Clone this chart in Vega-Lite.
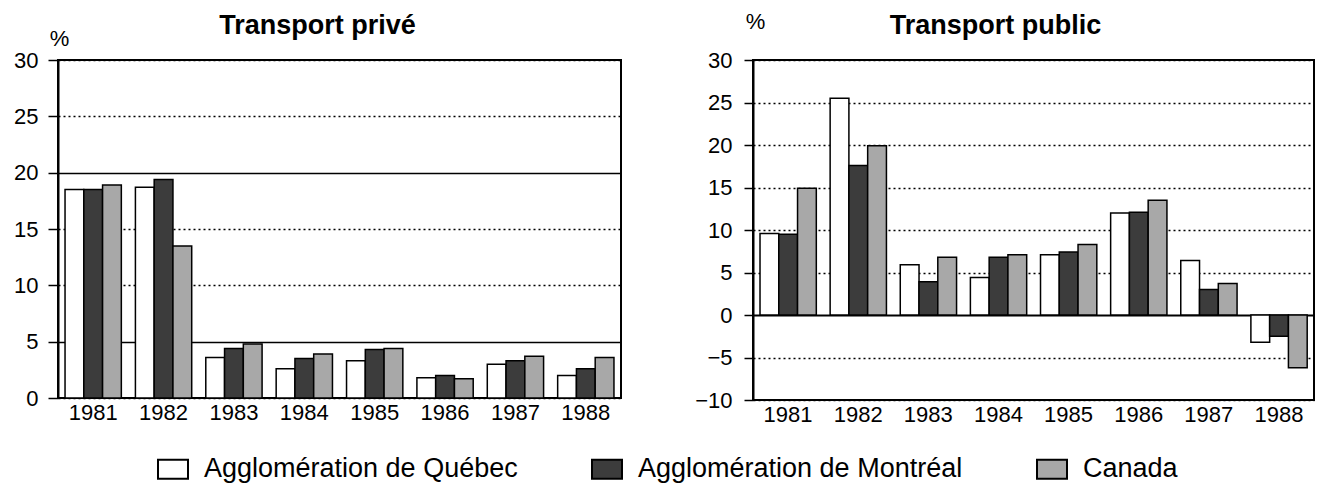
{
  "$schema": "https://vega.github.io/schema/vega-lite/v6.json",
  "background": "white",
  "padding": {"left": 12, "top": 9, "right": 8, "bottom": 0},
  "datasets": {
    "d": [
      {"t": "privé", "year": "1981", "region": "Agglomération de Québec", "v": 18.5},
      {"t": "privé", "year": "1981", "region": "Agglomération de Montréal", "v": 18.5},
      {"t": "privé", "year": "1981", "region": "Canada", "v": 18.9},
      {"t": "privé", "year": "1982", "region": "Agglomération de Québec", "v": 18.7},
      {"t": "privé", "year": "1982", "region": "Agglomération de Montréal", "v": 19.4},
      {"t": "privé", "year": "1982", "region": "Canada", "v": 13.5},
      {"t": "privé", "year": "1983", "region": "Agglomération de Québec", "v": 3.6},
      {"t": "privé", "year": "1983", "region": "Agglomération de Montréal", "v": 4.4},
      {"t": "privé", "year": "1983", "region": "Canada", "v": 4.8},
      {"t": "privé", "year": "1984", "region": "Agglomération de Québec", "v": 2.6},
      {"t": "privé", "year": "1984", "region": "Agglomération de Montréal", "v": 3.5},
      {"t": "privé", "year": "1984", "region": "Canada", "v": 3.9},
      {"t": "privé", "year": "1985", "region": "Agglomération de Québec", "v": 3.3},
      {"t": "privé", "year": "1985", "region": "Agglomération de Montréal", "v": 4.3},
      {"t": "privé", "year": "1985", "region": "Canada", "v": 4.4},
      {"t": "privé", "year": "1986", "region": "Agglomération de Québec", "v": 1.8},
      {"t": "privé", "year": "1986", "region": "Agglomération de Montréal", "v": 2.0},
      {"t": "privé", "year": "1986", "region": "Canada", "v": 1.7},
      {"t": "privé", "year": "1987", "region": "Agglomération de Québec", "v": 3.0},
      {"t": "privé", "year": "1987", "region": "Agglomération de Montréal", "v": 3.3},
      {"t": "privé", "year": "1987", "region": "Canada", "v": 3.7},
      {"t": "privé", "year": "1988", "region": "Agglomération de Québec", "v": 2.0},
      {"t": "privé", "year": "1988", "region": "Agglomération de Montréal", "v": 2.6},
      {"t": "privé", "year": "1988", "region": "Canada", "v": 3.6},
      {"t": "public", "year": "1981", "region": "Agglomération de Québec", "v": 9.6},
      {"t": "public", "year": "1981", "region": "Agglomération de Montréal", "v": 9.5},
      {"t": "public", "year": "1981", "region": "Canada", "v": 14.9},
      {"t": "public", "year": "1982", "region": "Agglomération de Québec", "v": 25.5},
      {"t": "public", "year": "1982", "region": "Agglomération de Montréal", "v": 17.6},
      {"t": "public", "year": "1982", "region": "Canada", "v": 19.9},
      {"t": "public", "year": "1983", "region": "Agglomération de Québec", "v": 5.9},
      {"t": "public", "year": "1983", "region": "Agglomération de Montréal", "v": 3.9},
      {"t": "public", "year": "1983", "region": "Canada", "v": 6.8},
      {"t": "public", "year": "1984", "region": "Agglomération de Québec", "v": 4.4},
      {"t": "public", "year": "1984", "region": "Agglomération de Montréal", "v": 6.8},
      {"t": "public", "year": "1984", "region": "Canada", "v": 7.1},
      {"t": "public", "year": "1985", "region": "Agglomération de Québec", "v": 7.1},
      {"t": "public", "year": "1985", "region": "Agglomération de Montréal", "v": 7.4},
      {"t": "public", "year": "1985", "region": "Canada", "v": 8.3},
      {"t": "public", "year": "1986", "region": "Agglomération de Québec", "v": 12.0},
      {"t": "public", "year": "1986", "region": "Agglomération de Montréal", "v": 12.1},
      {"t": "public", "year": "1986", "region": "Canada", "v": 13.5},
      {"t": "public", "year": "1987", "region": "Agglomération de Québec", "v": 6.4},
      {"t": "public", "year": "1987", "region": "Agglomération de Montréal", "v": 3.0},
      {"t": "public", "year": "1987", "region": "Canada", "v": 3.7},
      {"t": "public", "year": "1988", "region": "Agglomération de Québec", "v": -3.2},
      {"t": "public", "year": "1988", "region": "Agglomération de Montréal", "v": -2.5},
      {"t": "public", "year": "1988", "region": "Canada", "v": -6.2}
    ]
  },
  "config": {
    "font": "Liberation Sans",
    "view": {"stroke": "black", "strokeWidth": 2},
    "axis": {"labelFont": "Liberation Sans", "labelFontSize": 22, "labelColor": "black", "titleColor": "black", "titleFont": "Liberation Sans"},
    "title": {"font": "Liberation Sans", "fontSize": 27, "fontWeight": "bold", "color": "black"},
    "legend": {"labelFont": "Liberation Sans"},
    "concat": {"spacing": 71}
  },
  "hconcat": [
    {
      "width": 563,
      "height": 338,
      "data": {"name": "d"},
      "transform": [{"filter": "datum.t == 'privé'"}],
      "title": {"text": "Transport privé", "anchor": "middle", "frame": "group", "dx": -22, "offset": -13},
      "mark": {"type": "bar", "stroke": "black", "strokeWidth": 1.5},
      "encoding": {
        "x": {"field": "year", "type": "nominal", "scale": {"paddingInner": 0.2, "paddingOuter": 0.1},
              "axis": {"title": null, "labelAngle": 0, "ticks": false, "domain": false, "labelPadding": 4}},
        "xOffset": {"field": "region", "type": "nominal", "sort": ["Agglomération de Québec", "Agglomération de Montréal", "Canada"], "scale": {"paddingInner": 0, "paddingOuter": 0}},
        "y": {"field": "v", "type": "quantitative", "scale": {"domain": [0, 30], "nice": false},
              "axis": {"title": "%", "titleAngle": 0, "titleX": 1, "titleY": -15, "titleAlign": "center", "titleBaseline": "alphabetic", "titleFontSize": 22, "titleFontWeight": "normal",
                       "values": [0, 5, 10, 15, 20, 25, 30], "tickSize": 10, "tickColor": "black", "tickWidth": 1.5, "domainColor": "black", "domainWidth": 2, "labelPadding": 10,
                       "grid": true, "gridColor": "black", "gridWidth": 1.3, "gridDash": {"condition": {"test": "datum.value == 20 || datum.value == 5", "value": []}, "value": [2, 3]}}},
        "color": {"field": "region", "type": "nominal",
                  "scale": {"domain": ["Agglomération de Québec", "Agglomération de Montréal", "Canada"], "range": ["#ffffff", "#3c3c3c", "#a8a8a8"]},
                  "legend": {"orient": "none", "legendX": 99, "legendY": 393, "direction": "horizontal", "title": null,
                             "symbolType": "M-1,-0.63H1V0.63H-1Z", "symbolSize": 900, "symbolStrokeColor": "black", "symbolStrokeWidth": 2,
                             "labelFontSize": 27, "labelColor": "black", "labelLimit": 0, "columnPadding": 70, "labelOffset": 15}}
      }
    },
    {
      "width": 561,
      "height": 340,
      "data": {"name": "d"},
      "transform": [{"filter": "datum.t == 'public'"}],
      "title": {"text": "Transport public", "anchor": "middle", "frame": "group", "dx": -38, "offset": -30},
      "mark": {"type": "bar", "stroke": "black", "strokeWidth": 1.5},
      "encoding": {
        "x": {"field": "year", "type": "nominal", "scale": {"paddingInner": 0.2, "paddingOuter": 0.1},
              "axis": {"title": null, "labelAngle": 0, "ticks": false, "domain": false, "labelPadding": 4}},
        "xOffset": {"field": "region", "type": "nominal", "sort": ["Agglomération de Québec", "Agglomération de Montréal", "Canada"], "scale": {"paddingInner": 0, "paddingOuter": 0}},
        "y": {"field": "v", "type": "quantitative", "scale": {"domain": [-10, 30], "nice": false},
              "axis": {"title": "%", "titleAngle": 0, "titleX": 2, "titleY": -32, "titleAlign": "center", "titleBaseline": "alphabetic", "titleFontSize": 22, "titleFontWeight": "normal",
                       "values": [-10, -5, 0, 5, 10, 15, 20, 25, 30], "tickSize": 9, "tickColor": "black", "tickWidth": 1.5, "domainColor": "black", "domainWidth": 2, "labelPadding": 12,
                       "grid": true, "gridColor": "black", "gridWidth": {"condition": {"test": "datum.value == 0", "value": 2}, "value": 1.3}, "gridDash": {"condition": {"test": "datum.value == 0", "value": []}, "value": [2, 3]}}},
        "color": {"field": "region", "type": "nominal",
                  "scale": {"domain": ["Agglomération de Québec", "Agglomération de Montréal", "Canada"], "range": ["#ffffff", "#3c3c3c", "#a8a8a8"]}}
      }
    }
  ]
}
